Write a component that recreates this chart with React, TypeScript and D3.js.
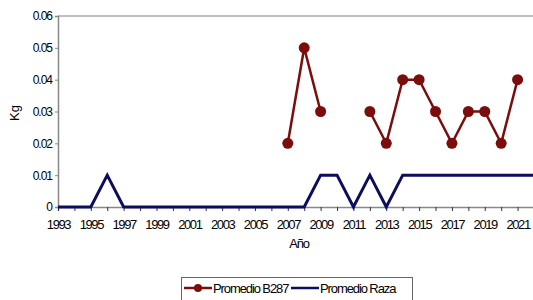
import React, { useEffect, useRef } from "react";
import * as d3 from "d3";

// years on the x axis
const years = d3.range(1993, 2023);
// Promedio B287 (null = no data)
const b287: (number | null)[] = [
  null, null, null, null, null, null, null, null, null, null, null, null, null, null,
  0.02, 0.05, 0.03, null, null, 0.03, 0.02, 0.04, 0.04, 0.03, 0.02, 0.03, 0.03, 0.02, 0.04, null,
];
// Promedio Raza
const raza = [
  0, 0, 0, 0.01, 0, 0, 0, 0, 0, 0, 0, 0, 0, 0,
  0, 0, 0.01, 0.01, 0, 0.01, 0, 0.01, 0.01, 0.01, 0.01, 0.01, 0.01, 0.01, 0.01, 0.01,
];
const yTicks = [0, 0.01, 0.02, 0.03, 0.04, 0.05, 0.06];
const xLabels = d3.range(1993, 2022, 2);

const RED = "#7b0d0d";
const BLUE = "#0d0d5e";
const FONT = "'Liberation Sans', Arial, sans-serif";

export default function App() {
  const ref = useRef<SVGSVGElement>(null);

  useEffect(() => {
    const svg = d3.select(ref.current);
    svg.selectAll("*").remove();

    const left = 58, right = 534, top = 16, bottom = 207;
    const x = d3.scaleLinear().domain([1993, 2022]).range([left, right]);
    const y = d3.scaleLinear().domain([0, 0.06]).range([bottom, top]);

    // frame
    svg.append("line").attr("x1", left).attr("x2", 533).attr("y1", top).attr("y2", top)
      .attr("stroke", "#aaa").attr("stroke-width", 1.5);

    // y axis
    const yAxis = svg.append("g").attr("transform", `translate(${left},0)`)
      .call(d3.axisLeft(y).tickValues(yTicks).tickSize(3).tickFormat(d => d === 0 ? "0" : d3.format(".2f")(d as number)));
    yAxis.select(".domain").attr("stroke", "#888").attr("stroke-width", 1.5);
    yAxis.selectAll(".tick line").attr("stroke", "#888");
    yAxis.selectAll("text").attr("font-family", FONT).attr("font-size", 12)
      .attr("letter-spacing", "-1px").attr("fill", "#000").attr("x", -6);

    // x axis
    const xAxis = svg.append("g").attr("transform", `translate(0,${bottom})`)
      .call(d3.axisBottom(x).tickValues(years.slice(0, 29)).tickSize(4)
        .tickFormat(d => (xLabels.includes(d as number) ? String(d) : "")));
    xAxis.select(".domain").attr("stroke", "#888").attr("stroke-width", 1.5);
    xAxis.selectAll(".tick line").attr("stroke", "#333");
    xAxis.selectAll("text").attr("font-family", FONT).attr("font-size", 13)
      .attr("letter-spacing", "-1.4px").attr("fill", "#000").attr("y", 13);

    // lines
    const lineB = d3.line<number | null>()
      .defined(d => d !== null)
      .x((_, i) => x(years[i]))
      .y(d => y(d as number));
    svg.append("path").datum(raza).attr("d", lineB as any)
      .attr("fill", "none").attr("stroke", BLUE).attr("stroke-width", 3);
    svg.append("path").datum(b287).attr("d", lineB)
      .attr("fill", "none").attr("stroke", RED).attr("stroke-width", 2.5);
    svg.append("g").selectAll("circle")
      .data(b287.map((v, i) => ({ v, yr: years[i] })).filter(d => d.v !== null))
      .enter().append("circle")
      .attr("cx", d => x(d.yr)).attr("cy", d => y(d.v as number)).attr("r", 5.5)
      .attr("fill", RED);

    // axis titles
    svg.append("text").attr("transform", `translate(19,113) rotate(-90)`)
      .attr("text-anchor", "middle").attr("font-family", FONT).attr("font-size", 13)
      .attr("fill", "#000").text("Kg");
    svg.append("text").attr("x", 299).attr("y", 248).attr("text-anchor", "middle")
      .attr("font-family", FONT).attr("font-size", 13).attr("letter-spacing", "-1.2px")
      .attr("fill", "#000").text("Año");

    // legend
    const lg = svg.append("g");
    lg.append("rect").attr("x", 181.5).attr("y", 277.5).attr("width", 231).attr("height", 30)
      .attr("fill", "white").attr("stroke", "#666");
    lg.append("line").attr("x1", 184).attr("x2", 212).attr("y1", 288).attr("y2", 288)
      .attr("stroke", RED).attr("stroke-width", 2.5);
    lg.append("circle").attr("cx", 198).attr("cy", 288).attr("r", 4).attr("fill", RED);
    lg.append("text").attr("x", 213).attr("y", 293).attr("font-family", FONT).attr("font-size", 13)
      .attr("letter-spacing", "-1.1px").attr("fill", "#000").text("Promedio B287");
    lg.append("line").attr("x1", 291).attr("x2", 319).attr("y1", 288).attr("y2", 288)
      .attr("stroke", BLUE).attr("stroke-width", 2.5);
    lg.append("text").attr("x", 320).attr("y", 293).attr("font-family", FONT).attr("font-size", 13)
      .attr("letter-spacing", "-1.1px").attr("fill", "#000").text("Promedio Raza");
  }, []);

  return (
    <svg ref={ref} width={533} height={300}
      style={{ position: "absolute", left: 0, top: 0, background: "white" }} />
  );
}
